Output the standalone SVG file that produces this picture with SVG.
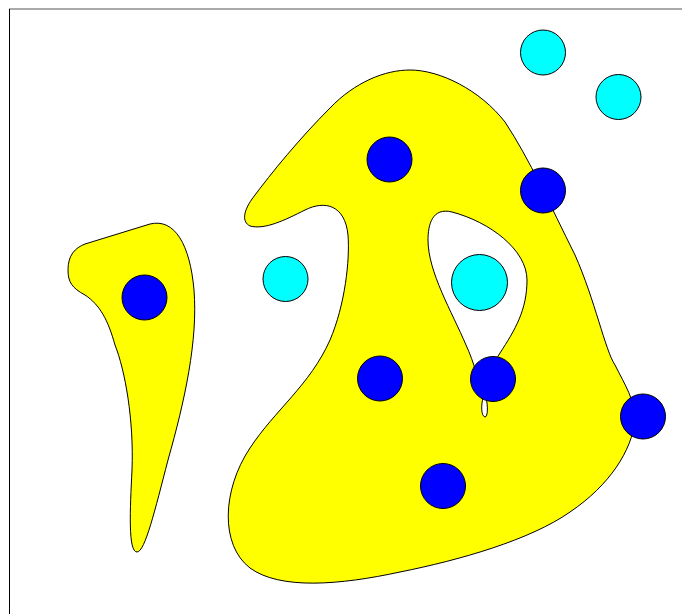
<svg xmlns="http://www.w3.org/2000/svg" width="682" height="614" viewBox="0 0 682 614">
<style>
.blob{fill:#ffff00;stroke:#000;stroke-width:1;fill-rule:evenodd}
.b{fill:#0000ff;stroke:#000;stroke-width:1}
.c{fill:#00ffff;stroke:#000;stroke-width:1}
</style>
<rect width="682" height="614" fill="#fff"/>
<g id="frame">
<line x1="9" y1="9" x2="682" y2="9" stroke="#555" stroke-width="1"/>
<line x1="9.5" y1="9" x2="9.5" y2="614" stroke="#000" stroke-width="1"/>
</g>
<g id="left-blob">
<path class="blob" d="M 68,270 C 68,255 75,248 85,244 L 150,224 C 175,218 190,245 194,290 C 198,340 185,400 168,460 C 155,510 145,552 137,552 C 128,552 130,510 132,470 C 134,420 125,370 115,345 C 108,320 100,305 85,295 C 72,288 68,282 68,270 Z"/>
</g>
<g id="main-blob">
<path class="blob" d="M 250,226 C 242,222 243,212 252,199 C 272,172 300,138 330,108 C 355,82 385,70 410,70 C 440,70 480,90 505,122 C 530,160 550,205 575,255 C 595,300 605,350 615,365 C 625,385 635,400 635,420 C 632,450 610,485 570,512 C 530,540 460,560 400,572 C 340,585 280,590 250,568 C 220,545 222,490 250,448 C 275,410 310,385 330,340 C 345,305 350,260 348,235 C 345,205 325,200 305,210 C 285,220 265,230 250,226 Z M 500,353 C 515,330 527,310 527,280 C 527,250 490,222 452,212 C 432,207 428,225 428,240 C 428,272 452,312 466,345 C 474,362 480,385 483,398 C 481,405 481,416 485,417 C 488,417 488,405 486,398 C 488,380 492,365 500,353 Z"/>
</g>
<g id="blue-nodes">
<circle id="b1" class="b" cx="144.5" cy="297.5" r="22.5"/>
<circle id="b2" class="b" cx="389.5" cy="159.5" r="22.5"/>
<circle id="b3" class="b" cx="543" cy="190.5" r="22.5"/>
<circle id="b4" class="b" cx="380" cy="378.5" r="22.5"/>
<circle id="b5" class="b" cx="493" cy="379" r="22.5"/>
<circle id="b6" class="b" cx="643" cy="416.5" r="22.5"/>
<circle id="b7" class="b" cx="443" cy="486" r="22.5"/>
</g>
<g id="cyan-nodes">
<circle id="c1" class="c" cx="543" cy="52.5" r="22.5"/>
<circle id="c2" class="c" cx="618.5" cy="97" r="22.5"/>
<circle id="c3" class="c" cx="285.5" cy="279" r="22.5"/>
<circle id="c4" class="c" cx="479.5" cy="282.5" r="28"/>
</g>
<g id="connectors"></g>
</svg>
